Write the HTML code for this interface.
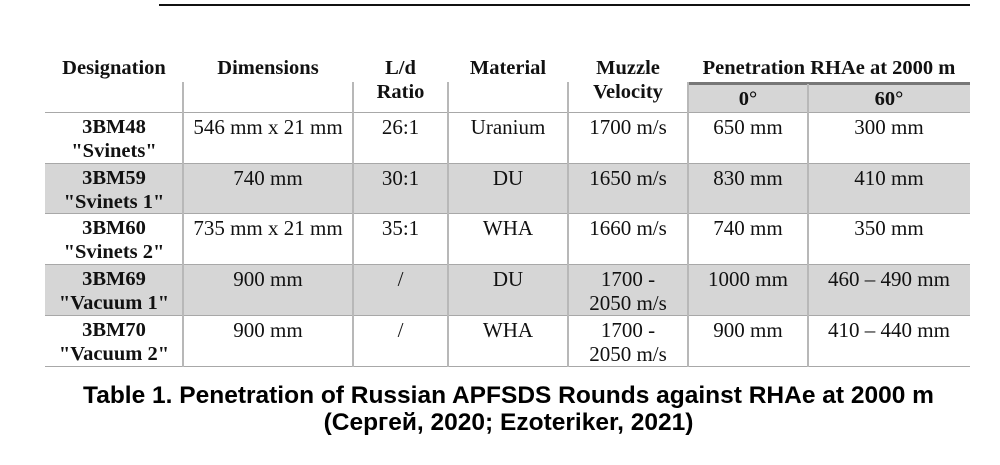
<!DOCTYPE html>
<html><head><meta charset="utf-8"><style>
body{margin:0;width:1000px;height:465px;background:#fff;position:relative;overflow:hidden;font-family:"Liberation Serif",serif;color:#111}
.a{position:absolute}
.h{position:absolute;height:1px;background:#a8a8a8}
.v{position:absolute;width:2px;background:#b8b8b8}
.g{position:absolute;background:#d6d6d6}
.t{position:absolute;text-align:center;font-size:21px;line-height:24px;white-space:nowrap}
.b{font-weight:bold;font-size:20.5px}
.cap{position:absolute;left:0;width:1017px;text-align:center;font-family:"Liberation Sans",sans-serif;font-weight:bold;font-size:24.5px;line-height:27px;color:#000}
</style></head><body>
<div class="a" style="left:159px;top:4px;width:811px;height:2px;background:#111"></div>

<div class="g" style="left:688px;top:84px;width:282px;height:28px"></div>
<div class="g" style="left:45px;top:163px;width:925px;height:50px"></div>
<div class="g" style="left:45px;top:264px;width:925px;height:51px"></div>
<div class="a" style="left:688px;top:82px;width:282px;height:3px;background:#777"></div>

<div class="h" style="left:45px;top:112px;width:925px"></div>
<div class="h" style="left:45px;top:163px;width:925px"></div>
<div class="h" style="left:45px;top:213px;width:925px"></div>
<div class="h" style="left:45px;top:264px;width:925px"></div>
<div class="h" style="left:45px;top:315px;width:925px"></div>
<div class="h" style="left:45px;top:366px;width:925px"></div>

<div class="v" style="left:182px;top:82px;height:285px"></div>
<div class="v" style="left:352px;top:82px;height:285px"></div>
<div class="v" style="left:447px;top:82px;height:285px"></div>
<div class="v" style="left:567px;top:82px;height:285px"></div>
<div class="v" style="left:687px;top:82px;height:285px"></div>
<div class="v" style="left:807px;top:84px;height:283px"></div>

<div class="t b" style="left:45px;width:138px;top:56px">Designation</div>
<div class="t b" style="left:183px;width:170px;top:56px">Dimensions</div>
<div class="t b" style="left:353px;width:95px;top:56px">L/d<br>Ratio</div>
<div class="t b" style="left:448px;width:120px;top:56px">Material</div>
<div class="t b" style="left:568px;width:120px;top:56px">Muzzle<br>Velocity</div>
<div class="t b" style="left:688px;width:282px;top:56px">Penetration RHAe at 2000 m</div>
<div class="t b" style="left:688px;width:120px;top:87px">0°</div>
<div class="t b" style="left:808px;width:162px;top:87px">60°</div>

<div class="t b" style="left:45px;width:138px;top:115px">3BM48<br>"Svinets"</div>
<div class="t" style="left:183px;width:170px;top:115px">546 mm x 21 mm</div>
<div class="t" style="left:353px;width:95px;top:115px">26:1</div>
<div class="t" style="left:448px;width:120px;top:115px">Uranium</div>
<div class="t" style="left:568px;width:120px;top:115px">1700 m/s</div>
<div class="t" style="left:688px;width:120px;top:115px">650 mm</div>
<div class="t" style="left:808px;width:162px;top:115px">300 mm</div>

<div class="t b" style="left:45px;width:138px;top:166px">3BM59<br>"Svinets 1"</div>
<div class="t" style="left:183px;width:170px;top:166px">740 mm</div>
<div class="t" style="left:353px;width:95px;top:166px">30:1</div>
<div class="t" style="left:448px;width:120px;top:166px">DU</div>
<div class="t" style="left:568px;width:120px;top:166px">1650 m/s</div>
<div class="t" style="left:688px;width:120px;top:166px">830 mm</div>
<div class="t" style="left:808px;width:162px;top:166px">410 mm</div>

<div class="t b" style="left:45px;width:138px;top:216px">3BM60<br>"Svinets 2"</div>
<div class="t" style="left:183px;width:170px;top:216px">735 mm x 21 mm</div>
<div class="t" style="left:353px;width:95px;top:216px">35:1</div>
<div class="t" style="left:448px;width:120px;top:216px">WHA</div>
<div class="t" style="left:568px;width:120px;top:216px">1660 m/s</div>
<div class="t" style="left:688px;width:120px;top:216px">740 mm</div>
<div class="t" style="left:808px;width:162px;top:216px">350 mm</div>

<div class="t b" style="left:45px;width:138px;top:267px">3BM69<br>"Vacuum 1"</div>
<div class="t" style="left:183px;width:170px;top:267px">900 mm</div>
<div class="t" style="left:353px;width:95px;top:267px">/</div>
<div class="t" style="left:448px;width:120px;top:267px">DU</div>
<div class="t" style="left:568px;width:120px;top:267px">1700 -<br>2050 m/s</div>
<div class="t" style="left:688px;width:120px;top:267px">1000 mm</div>
<div class="t" style="left:808px;width:162px;top:267px">460 – 490 mm</div>

<div class="t b" style="left:45px;width:138px;top:318px">3BM70<br>"Vacuum 2"</div>
<div class="t" style="left:183px;width:170px;top:318px">900 mm</div>
<div class="t" style="left:353px;width:95px;top:318px">/</div>
<div class="t" style="left:448px;width:120px;top:318px">WHA</div>
<div class="t" style="left:568px;width:120px;top:318px">1700 -<br>2050 m/s</div>
<div class="t" style="left:688px;width:120px;top:318px">900 mm</div>
<div class="t" style="left:808px;width:162px;top:318px">410 – 440 mm</div>

<div class="cap" style="top:382px">Table 1. Penetration of Russian APFSDS Rounds against RHAe at 2000 m</div>
<div class="cap" style="top:409px">(Сергей, 2020; Ezoteriker, 2021)</div>
</body></html>
